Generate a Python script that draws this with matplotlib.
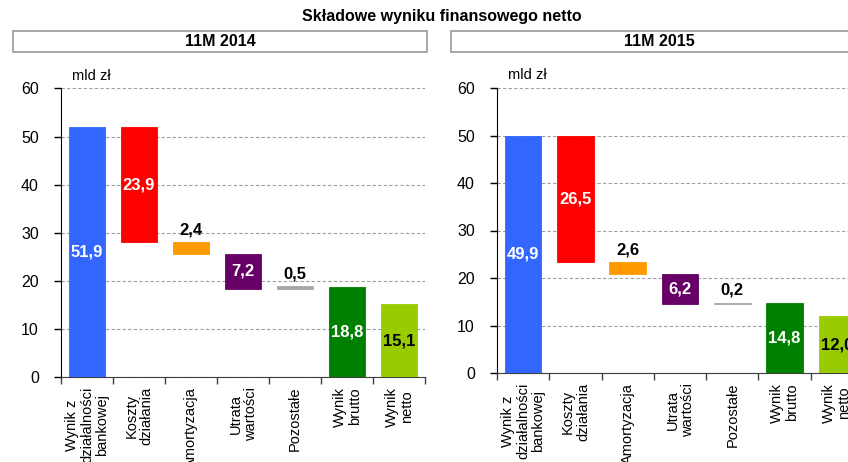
import matplotlib
matplotlib.use("Agg")
import matplotlib.pyplot as plt
from matplotlib.patches import Rectangle
from matplotlib.ticker import FixedLocator

plt.rcParams['font.family'] = ['Liberation Sans', 'DejaVu Sans']

title = "Składowe wyniku finansowego netto"
unit = "mld zł"
categories = ["Wynik z\ndziałalności\nbankowej", "Koszty\ndziałania", "Amortyzacja",
              "Utrata\nwartości", "Pozostałe", "Wynik\nbrutto", "Wynik\nnetto"]
kinds = ["total", "neg", "neg", "neg", "pos", "total", "total"]
panel_titles = ["11M 2014", "11M 2015"]
values_2014 = [51.9, 23.9, 2.4, 7.2, 0.5, 18.8, 15.1]
values_2015 = [49.9, 26.5, 2.6, 6.2, 0.2, 14.8, 12.0]
colors = ["#3366FF", "#FF0000", "#FF9900", "#660066", "#A6A6A6", "#008000", "#99CC00"]
label_colors = ["white", "white", "black", "white", "black", "white", "black"]
label_inside = [True, True, False, True, False, True, True]
yticks = [0, 10, 20, 30, 40, 50, 60]

W, H = 848, 462
fig = plt.figure(figsize=(W / 100, H / 100), dpi=100)

fig.text(442 / W, 1 - 17 / H, title, ha='center', va='center', fontsize=11.5, fontweight='bold')

panels = [
    dict(vals=values_2014, ax=(61, 377, 364, 288.5), box=(13, 31, 414, 21), ttl=panel_titles[0]),
    dict(vals=values_2015, ax=(497, 373, 366, 285), box=(451, 31, 416, 21), ttl=panel_titles[1]),
]

for p in panels:
    bx, by, bw, bh = p['box']
    fig.patches.append(Rectangle((bx / W, 1 - (by + bh) / H), bw / W, bh / H,
                                 transform=fig.transFigure, facecolor='white',
                                 edgecolor='#A0A0A0', linewidth=1.3))
    fig.text((bx + bw / 2) / W, 1 - (by + bh / 2) / H, p['ttl'], ha='center', va='center',
             fontsize=11.5, fontweight='bold')

    x0, ybot, aw, ah = p['ax']
    ax = fig.add_axes([x0 / W, 1 - ybot / H, aw / W, ah / H])
    vals = p['vals']
    bottoms, heights = [], []
    running = 0.0
    for v, k in zip(vals, kinds):
        if k == "total":
            bottoms.append(0.0); heights.append(v); running = v
        elif k == "neg":
            running -= v
            bottoms.append(running); heights.append(v)
        else:
            bottoms.append(running); heights.append(v); running += v
    xs = list(range(len(vals)))
    ax.bar(xs, heights, bottom=bottoms, width=0.7, color=colors, zorder=3,
           edgecolor=colors, linewidth=0.6)
    for i, (b, h) in enumerate(zip(bottoms, heights)):
        txt = f"{vals[i]:.1f}".replace('.', ',')
        if label_inside[i]:
            ax.text(i, b + h / 2, txt, ha='center', va='center', color=label_colors[i],
                    fontsize=12, fontweight='bold', zorder=4)
        else:
            ax.text(i, b + h + 1.0, txt, ha='center', va='bottom', color=label_colors[i],
                    fontsize=12, fontweight='bold', zorder=4)

    ax.set_xlim(-0.5, len(vals) - 0.5)
    ax.set_ylim(0, 60)
    ax.set_yticks(yticks)
    ax.tick_params(axis='y', direction='out', length=5, width=1, pad=11, labelsize=11.5,
                   colors='black')
    ax.yaxis.grid(True, linestyle=(0, (3, 2)), color='#A0A0A0', linewidth=0.8, zorder=0)
    ax.set_xticks(xs)
    ax.set_xticklabels(categories, rotation=90, ha='center', va='top',
                       multialignment='center', fontsize=10.5, linespacing=1.1)
    ax.tick_params(axis='x', which='major', length=0, pad=7)
    ax.xaxis.set_minor_locator(FixedLocator([i - 0.5 for i in range(len(vals) + 1)]))
    ax.tick_params(axis='x', which='minor', direction='out', length=5, width=1,
                   color='#404040')
    for s in ['top', 'right']:
        ax.spines[s].set_visible(False)
    ax.spines['left'].set_color('black')
    ax.spines['bottom'].set_color('#404040')
    ax.text(0.03, 1.02, unit, transform=ax.transAxes, ha='left', va='bottom', fontsize=10.5)

fig.savefig("out.png", dpi=100)
